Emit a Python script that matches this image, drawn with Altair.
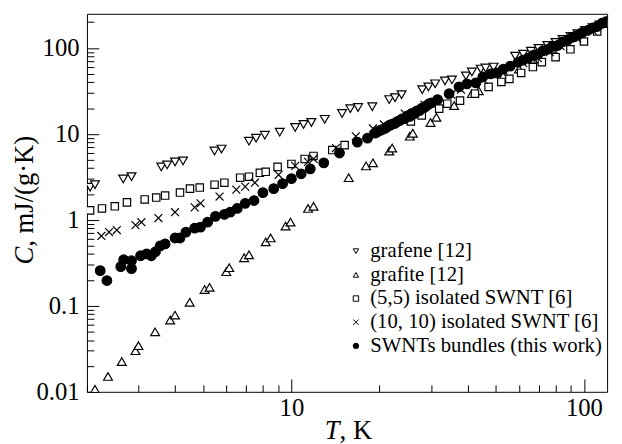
import altair as alt
import pandas as pd

# ---------------- data ----------------
series_names = [
    "grafene [12]",
    "grafite [12]",
    "(5,5) isolated SWNT [6]",
    "(10, 10) isolated SWNT [6]",
    "SWNTs bundles (this work)",
]

grafene_T = [2.05, 2.13, 2.66, 2.84, 3.59, 3.76, 4.0, 4.26, 5.46, 5.77, 7.16, 7.57, 8.11, 9.12,
             10.3, 11.0, 11.7, 13.0, 14.9, 15.9, 16.9, 18.9, 21.6, 22.6, 23.8, 28.0, 29.4, 31.0,
             33.5, 35.4, 39.5, 41.4, 44.4, 46.1, 49.1, 58.2, 62.0, 65.9, 70.0, 75.0, 80.0, 84.5,
             90.0, 95.0, 101, 107, 113, 118]
grafene_C = [2.4, 2.57, 3.0, 3.18, 4.14, 4.37, 4.73, 4.86, 6.33, 6.67, 8.24, 8.93, 9.66, 10.5,
             11.9, 12.9, 13.6, 14.8, 17.3, 19.7, 20.3, 20.8, 25.1, 26.4, 28.6, 32.7, 35.3, 38.3,
             41.4, 42.6, 47.3, 52.6, 56.9, 58.5, 60.0, 80.3, 84.7, 91.6, 99.0, 107, 116, 126,
             136, 147, 160, 173, 186, 198]

grafite_T = [2.13, 2.36, 2.63, 2.93, 3.0, 3.42, 3.85, 4.0, 4.49, 5.05, 5.25, 5.99, 6.13, 6.89,
             7.16, 8.17, 8.49, 9.55, 9.93, 11.4, 11.9, 15.7, 18.0, 19.0, 21.6, 22.1, 25.4, 26.0,
             29.9, 31.3, 36.0, 41.4, 43.7, 53.0, 60.0, 67.0, 78.0, 91.0, 107, 119]
grafite_C = [0.0107, 0.0151, 0.0225, 0.0301, 0.0344, 0.0498, 0.0684, 0.078, 0.110, 0.155, 0.164,
             0.250, 0.278, 0.363, 0.393, 0.555, 0.617, 0.847, 0.942, 1.36, 1.44, 3.10, 4.25, 4.61,
             6.33, 6.85, 9.42, 10.2, 13.6, 15.6, 21.4, 29.4, 31.8, 47.0, 57.0, 74.0, 99.0, 133,
             168, 197]

swnt55_T = [2.05, 2.25, 2.49, 2.74, 3.15, 3.45, 3.70, 4.16, 4.50, 4.86, 5.46, 5.90, 6.68, 7.16,
            7.80, 8.17, 8.97, 10.0, 11.1, 11.9, 13.8, 15.2, 25.6, 27.9, 32.0, 34.1, 37.7, 42.4,
            47.2, 52.2, 55.6, 61.0, 66.9, 71.8, 80.0, 89.9, 100, 111, 119]
swnt55_C = [1.29, 1.36, 1.44, 1.60, 1.73, 1.82, 1.92, 2.08, 2.31, 2.38, 2.57, 2.71, 3.10, 3.18,
            3.53, 3.63, 4.14, 4.48, 5.12, 5.55, 6.50, 7.42, 14.0, 16.4, 19.7, 22.5, 24.4, 29.4,
            35.3, 40.3, 43.7, 51.3, 60.0, 68.5, 78.2, 96.6, 119, 156, 192]

swnt1010_T = [2.24, 2.38, 2.53, 2.93, 3.07, 3.51, 4.0, 4.67, 4.89, 5.68, 6.48, 6.95, 7.50, 9.04,
              10.3, 11.4, 11.9, 14.2, 16.6, 19.0, 20.7, 24.4, 28.5, 35.2, 38.0, 45.4, 53.1, 62.0,
              69.6, 76.4, 83.2, 94.8, 107, 117]
swnt1010_C = [0.650, 0.722, 0.762, 0.869, 0.941, 1.05, 1.23, 1.40, 1.56, 1.87, 2.25, 2.44, 2.71,
              3.35, 4.25, 4.73, 5.12, 6.85, 9.4, 11.6, 12.9, 17.3, 21.9, 28.6, 32.7, 42.6, 54.0,
              66.7, 76.2, 89.3, 105, 129, 160, 192]

bundle_T = [2.22, 2.34, 2.61, 2.67, 2.84, 2.84, 3.05, 3.20, 3.32, 3.43, 3.56, 3.70, 4.0, 4.16,
            4.36, 4.67, 4.89, 5.17, 5.50, 5.90, 6.18, 6.53, 6.95, 7.45, 7.99, 8.70, 9.33, 10.0,
            10.8, 11.6, 12.9, 14.6, 16.8, 18.2, 19.3, 19.6, 20.1, 20.4, 20.9, 21.2, 21.7, 22.1,
            22.6, 23.0, 23.5, 23.9, 24.4, 24.8, 25.4, 25.8, 26.4, 26.8, 27.4, 27.9, 28.5, 29.0,
            29.6, 30.1, 31.6, 34.6, 37.4, 39.8, 42.7, 45.1, 48.0, 50.2, 53.0, 56.0, 59.6, 61.9,
            64.4, 66.9, 69.6, 72.3, 75.2, 78.1, 81.3, 84.5, 87.9, 91.3, 94.9, 98.6, 103, 107,
            111, 115, 119]
bundle_C = [0.257, 0.197, 0.286, 0.344, 0.271, 0.335, 0.383, 0.403, 0.383, 0.426, 0.499, 0.526,
            0.616, 0.616, 0.722, 0.803, 0.825, 0.941, 1.10, 1.16, 1.23, 1.36, 1.56, 1.68, 2.08,
            2.31, 2.64, 3.02, 3.44, 3.93, 4.61, 6.0, 8.03, 8.93, 10.2, 10.5, 11.0, 11.2, 11.6,
            12.1, 12.6, 13.0, 13.3, 13.9, 14.4, 15.0, 15.1, 16.1, 16.0, 17.3, 17.3, 18.5, 18.7,
            19.9, 20.3, 21.4, 22.5, 23.0, 25.1, 29.4, 35.3, 38.3, 39.3, 46.0, 49.9, 51.2, 56.9,
            61.6, 68.5, 72.2, 76.2, 81.8, 84.7, 92.4, 96.6, 105, 107, 118, 123, 134, 140, 151,
            160, 171, 178, 193, 203]

x_label_values = [10, 100]
x_tick_values = [2, 3, 4, 5, 6, 7, 8, 9, 10, 20, 30, 40, 50, 60, 70, 80, 90, 100]
y_label_values = [0.01, 0.1, 1, 10, 100]
y_tick_values = [0.01, 0.02, 0.03, 0.04, 0.05, 0.06, 0.07, 0.08, 0.09,
                 0.1, 0.2, 0.3, 0.4, 0.5, 0.6, 0.7, 0.8, 0.9,
                 1, 2, 3, 4, 5, 6, 7, 8, 9,
                 10, 20, 30, 40, 50, 60, 70, 80, 90,
                 100, 200]

# ---------------- table ----------------
rows = []
for name, Ts, Cs in zip(series_names,
                        [grafene_T, grafite_T, swnt55_T, swnt1010_T, bundle_T],
                        [grafene_C, grafite_C, swnt55_C, swnt1010_C, bundle_C]):
    for t, c in zip(Ts, Cs):
        rows.append({"series": name, "T": t, "C": c})
df = pd.DataFrame(rows)

FONT = "Liberation Serif"
W, H = 527, 383

xscale = alt.Scale(type="log", domain=[2, 120], nice=False)
yscale = alt.Scale(type="log", domain=[0.01, 250], nice=False)

CROSS = "M-1,-1L1,1M1,-1L-1,1"
shape_scale = alt.Scale(domain=series_names,
                        range=["triangle-down", "triangle-up", "square", CROSS, "circle"])
fill_scale = alt.Scale(domain=series_names,
                       range=["white", "white", "white", "white", "black"])
stroke_scale = alt.Scale(domain=series_names, range=["black"] * 5)
marker_sizes = [80, 80, 56, 64, 95]

legend = alt.Legend(orient="none", legendX=262, legendY=230, title=None,
                    labelFont=FONT, labelFontSize=21, labelColor="black", labelLimit=0,
                    symbolSize=30, symbolStrokeWidth=1, symbolStrokeColor="black",
                    symbolOpacity=1, labelOffset=4, rowPadding=2)

major_x = "indexof([10, 100], datum.value) >= 0"
major_y = "indexof([0.01, 0.1, 1, 10, 100], datum.value) >= 0"

# inward ticks: a top axis moved to the bottom, a right axis moved to the left
ticks_layer = alt.Chart(df).mark_point(opacity=0).encode(
    x=alt.X("T:Q", scale=xscale,
            axis=alt.Axis(orient="top", offset=-H, values=x_tick_values, labels=False,
                          domain=False, grid=False, title=None, ticks=True,
                          tickColor="black", tickWidth=1,
                          tickSize={"condition": {"test": major_x, "value": 13}, "value": 7})),
    y=alt.Y("C:Q", scale=yscale,
            axis=alt.Axis(orient="right", offset=-W, values=y_tick_values, labels=False,
                          domain=False, grid=False, title=None, ticks=True,
                          tickColor="black", tickWidth=1,
                          tickSize={"condition": {"test": major_y, "value": 12}, "value": 7})),
)

x_label_axis = alt.Axis(orient="bottom", values=x_label_values, ticks=False, domain=False,
                        grid=False, title=None, labelFont=FONT, labelFontSize=25,
                        labelColor="black", labelBaseline="alphabetic", labelPadding=24,
                        labelExpr="format(datum.value, '~g')")
y_label_axis = alt.Axis(orient="left", values=y_label_values, ticks=False, domain=False,
                        grid=False, title=None, labelFont=FONT, labelFontSize=25,
                        labelColor="black", labelPadding=8,
                        labelExpr="format(datum.value, '~g')")

series_layers = []
for i, (name, sz) in enumerate(zip(series_names, marker_sizes)):
    first = i == 0
    lay = alt.Chart(df).transform_filter(alt.datum.series == name).mark_point(
        filled=True, strokeWidth=1.2, opacity=1, size=sz, clip=True
    ).encode(
        x=alt.X("T:Q", scale=xscale, axis=x_label_axis if first else None),
        y=alt.Y("C:Q", scale=yscale, axis=y_label_axis if first else None),
        shape=alt.Shape("series:N", scale=shape_scale, legend=legend),
        fill=alt.Fill("series:N", scale=fill_scale, legend=legend),
        stroke=alt.Stroke("series:N", scale=stroke_scale, legend=legend),
    )
    series_layers.append(lay)

one = pd.DataFrame({"k": [0]})


def label(text, x, y, italic=False, align="left", angle=0):
    kw = dict(text=text, font=FONT, fontSize=27, color="black", align=align,
              baseline="alphabetic")
    if italic:
        kw["fontStyle"] = "italic"
    if angle:
        kw["angle"] = angle
    return alt.Chart(one).mark_text(**kw).encode(x=alt.value(x), y=alt.value(y))


titles = [
    label("T", 256, 431, italic=True, align="right"),
    label(", K", 256, 431),
    label("C", -55, 236, italic=True, align="right", angle=270),
    label(", mJ/(g·K)", -55, 236, angle=270),
]

chart = alt.layer(ticks_layer, *series_layers, *titles).resolve_axis(
    x="independent", y="independent"
).properties(
    width=W, height=H,
    padding={"left": 80, "top": 3, "right": 7, "bottom": 50},
    autosize=alt.AutoSizeParams(type="none"),
).configure_view(
    stroke="black", strokeWidth=1
).configure_legend(
    labelFont=FONT, labelFontSize=21, labelColor="black", labelLimit=0
).configure_axis(
    labelFont=FONT, labelColor="black"
)

chart.save("out.html", embed_options={"renderer": "svg", "actions": False})
